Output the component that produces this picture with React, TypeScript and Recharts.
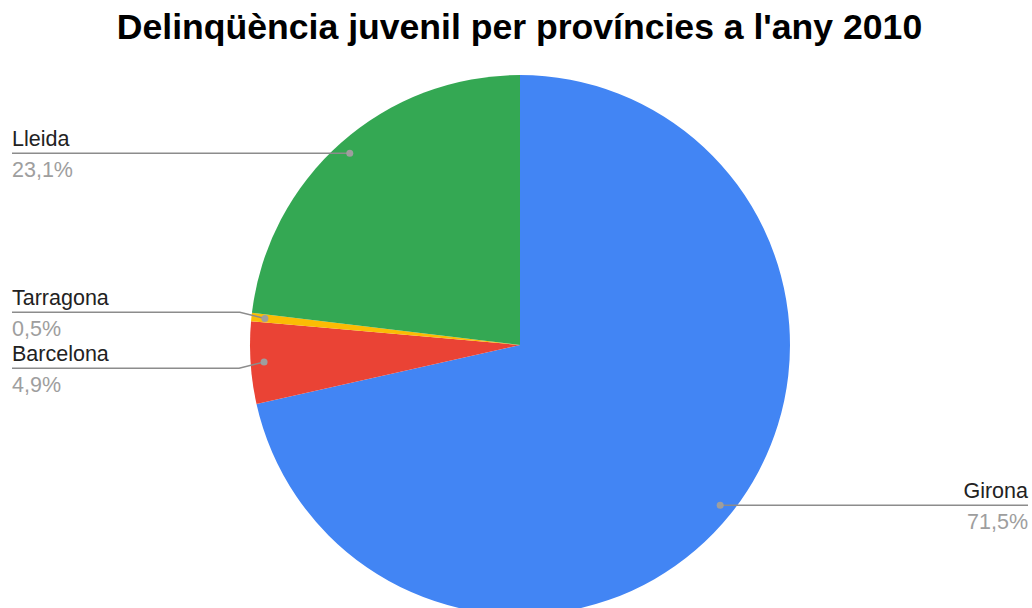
import { PieChart, Pie, Cell } from 'recharts';

// Chart data
const provinces = ['Girona', 'Barcelona', 'Tarragona', 'Lleida'];
const shares = [71.5, 4.9, 0.5, 23.1];
const colors = ['#4285F4', '#EA4335', '#FBBC04', '#34A853'];

const data = provinces.map((name, i) => ({ name, value: shares[i] }));

const RADIAN = Math.PI / 180;
const FONT = "Arial, 'Liberation Sans', sans-serif";
const MIN_GAP = 56;

// work out where each leader line sits, pushing close labels apart
const layoutLabels = (cx: number, cy: number, r: number) => {
  const total = shares.reduce((s, v) => s + v, 0);
  let acc = 0;
  const items = shares.map((v, i) => {
    const mid = 90 - ((acc + v / 2) / total) * 360;
    acc += v;
    const x = cx + r * 0.95 * Math.cos(-mid * RADIAN);
    const y = cy + r * 0.95 * Math.sin(-mid * RADIAN);
    return { i, x, y, lineY: y, left: x < cx };
  });
  [true, false].forEach(side => {
    const group = items.filter(it => it.left === side).sort((a, b) => a.y - b.y);
    for (let k = 1; k < group.length; k++) {
      const a = group[k - 1];
      const b = group[k];
      if (b.lineY - a.lineY < MIN_GAP) {
        const c = (a.lineY + b.lineY) / 2;
        a.lineY = c - MIN_GAP / 2;
        b.lineY = c + MIN_GAP / 2;
      }
    }
  });
  return items;
};

const renderLabel = (props: any) => {
  const { cx, cy, outerRadius, index } = props;
  const pos = layoutLabels(cx, cy, outerRadius)[index];
  const endX = pos.left ? 12 : 1028;
  const elbowX = pos.left ? pos.x - 25 : pos.x + 25;
  const d = Math.abs(pos.lineY - pos.y) < 1
    ? `M${pos.x},${pos.y} L${endX},${pos.lineY}`
    : `M${pos.x},${pos.y} L${elbowX},${pos.lineY} L${endX},${pos.lineY}`;
  const anchor = pos.left ? 'start' : 'end';
  return (
    <g key={`lbl-${index}`}>
      <path d={d} stroke="#8c8c8c" strokeWidth={1.5} fill="none" />
      <circle cx={pos.x} cy={pos.y} r={3.5} fill="#9e9e9e" />
      <text x={endX} y={pos.lineY - 7} textAnchor={anchor} fontSize={21.5} fontFamily={FONT} fill="#222">
        {provinces[index]}
      </text>
      <text x={endX} y={pos.lineY + 24} textAnchor={anchor} fontSize={21.5} fontFamily={FONT} fill="#9e9e9e">
        {shares[index].toFixed(1).replace('.', ',')}%
      </text>
    </g>
  );
};

const App = () => {
  return (
    <div style={{ position: 'absolute', left: 0, top: 0, width: 1032, height: 608, background: '#fff', overflow: 'hidden' }}>
      <div
        style={{
          position: 'absolute',
          left: 0,
          top: 7,
          width: 1039,
          textAlign: 'center',
          fontFamily: FONT,
          fontWeight: 'bold',
          fontSize: 35.6,
          lineHeight: '40px',
          color: '#000',
        }}
      >
        Delinqüència juvenil per províncies a l'any 2010
      </div>
      <PieChart width={1032} height={608} style={{ position: 'absolute', left: 0, top: 0 }}>
        <Pie
          data={data}
          dataKey="value"
          nameKey="name"
          cx={515}
          cy={340}
          outerRadius={270}
          startAngle={90}
          endAngle={-270}
          stroke="none"
          label={renderLabel}
          labelLine={false}
          isAnimationActive={false}
        >
          {data.map((entry, i) => (
            <Cell key={entry.name} fill={colors[i]} />
          ))}
        </Pie>
      </PieChart>
    </div>
  );
};

export default App;
